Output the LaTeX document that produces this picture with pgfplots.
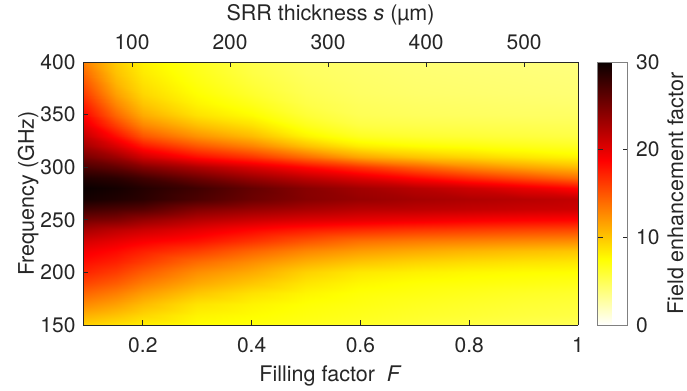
\documentclass[border=0pt]{standalone}
\usepackage{fontspec}
\setmainfont{TeX Gyre Heros}
\usepackage{pgfplots}
\pgfplotsset{compat=1.18}
\definecolor{axgray}{RGB}{38,38,38}
\begin{document}
\begin{tikzpicture}
\pgfplotsset{
  myaxis/.style={
    scale only axis, width=495pt, height=263pt,
    tick align=inside, major tick length=5pt,
    axis line style={axgray, line width=0.9pt},
    tick style={axgray, line width=0.9pt},
    ticklabel style={text=axgray, font=\fontsize{21}{24}\selectfont},
    label style={text=axgray, font=\fontsize{21.5}{25}\selectfont},
    /pgf/number format/assume math mode=true,
  }
}
\begin{axis}[
  myaxis,
  name=main,
  view={0}{90},
  xmin=0.09, xmax=1, ymin=150, ymax=400,
  xtick={0.2,0.4,0.6,0.8,1}, xticklabels={0.2,0.4,0.6,0.8,1},
  ytick={150,200,250,300,350,400},
  xtick pos=bottom, ytick pos=left,
  xticklabel style={yshift=-9pt},
  yticklabel style={xshift=-4pt},
  xlabel={Filling factor \ \textit{F}},
  ylabel={Frequency (GHz)},
  xlabel style={yshift=-6pt},
  ylabel style={yshift=-5pt},
  colormap={hotr}{rgb255(0cm)=(255,255,255) rgb255(2cm)=(255,255,0) rgb255(5cm)=(255,0,0) rgb255(8cm)=(10,0,0)},
  point meta min=0, point meta max=30,
  colorbar,
  colorbar style={
    at={(parent axis.north east)}, anchor=north west, xshift=11pt,
    width=30pt,
    ytick={0,10,20,30},
    tick align=inside, major tick length=5pt,
    axis line style={gray, line width=0.6pt},
    tick style={axgray, line width=0.6pt},
    yticklabel style={text=axgray, font=\fontsize{21}{24}\selectfont, xshift=5pt},
    ylabel={Field enhancement factor},
    ylabel style={text=axgray, font=\fontsize{21.5}{25}\selectfont},
    ylabel shift=1pt,
    /pgf/number format/assume math mode=true,
  },
  axis on top,
]
\addplot3[surf, shader=interp, mesh/ordering=y varies, mesh/rows=26, mesh/cols=11] table {
x y z
0.09 150 9.5
0.09 160 11
0.09 170 12.7
0.09 180 14.3
0.09 190 15.8
0.09 200 17.2
0.09 210 18.2
0.09 220 19.3
0.09 230 20.7
0.09 240 22.7
0.09 250 25
0.09 260 27.5
0.09 270 29.5
0.09 280 30
0.09 290 29
0.09 300 27
0.09 310 25
0.09 320 23
0.09 330 21.5
0.09 340 20
0.09 350 18.7
0.09 360 17.5
0.09 370 16.3
0.09 380 15.2
0.09 390 14.2
0.09 400 13.2
0.15 150 8.8
0.15 160 10.2
0.15 170 11.7
0.15 180 13.2
0.15 190 14.7
0.15 200 16.1
0.15 210 17.3
0.15 220 18.4
0.15 230 19.8
0.15 240 21.7
0.15 250 24.5
0.15 260 27
0.15 270 29
0.15 280 29.5
0.15 290 28.5
0.15 300 26
0.15 310 23.3
0.15 320 20.5
0.15 330 18.2
0.15 340 16
0.15 350 14.2
0.15 360 12.8
0.15 370 11.7
0.15 380 10.8
0.15 390 10.2
0.15 400 9.8
0.2 150 8.2
0.2 160 9.3
0.2 170 10.5
0.2 180 11.9
0.2 190 13.3
0.2 200 14.7
0.2 210 16.1
0.2 220 17.4
0.2 230 19
0.2 240 21
0.2 250 23.5
0.2 260 26.5
0.2 270 28.5
0.2 280 28.8
0.2 290 27.5
0.2 300 24.5
0.2 310 21
0.2 320 17.8
0.2 330 15
0.2 340 12.8
0.2 350 11.2
0.2 360 10.1
0.2 370 9.3
0.2 380 8.8
0.2 390 8.4
0.2 400 8.1
0.3 150 7.5
0.3 160 8
0.3 170 8.7
0.3 180 10
0.3 190 11.3
0.3 200 12.5
0.3 210 14
0.3 220 16
0.3 230 18
0.3 240 19.8
0.3 250 22
0.3 260 24.5
0.3 270 27
0.3 280 27.5
0.3 290 25.5
0.3 300 22.5
0.3 310 18.3
0.3 320 15
0.3 330 12.3
0.3 340 10.3
0.3 350 8.8
0.3 360 8
0.3 370 7.5
0.3 380 7.1
0.3 390 6.8
0.3 400 6.6
0.4 150 7.2
0.4 160 7.6
0.4 170 8
0.4 180 8.8
0.4 190 10
0.4 200 11.2
0.4 210 12.5
0.4 220 14.3
0.4 230 16.5
0.4 240 18.5
0.4 250 21
0.4 260 23.5
0.4 270 25.5
0.4 280 25.8
0.4 290 23.5
0.4 300 20.5
0.4 310 16.5
0.4 320 13
0.4 330 10.5
0.4 340 8.8
0.4 350 7.6
0.4 360 6.8
0.4 370 6.2
0.4 380 5.8
0.4 390 5.5
0.4 400 5.3
0.5 150 6.8
0.5 160 7.1
0.5 170 7.4
0.5 180 7.9
0.5 190 8.6
0.5 200 9.5
0.5 210 11
0.5 220 12.8
0.5 230 15
0.5 240 17.5
0.5 250 20.3
0.5 260 22.7
0.5 270 24.3
0.5 280 24.2
0.5 290 21.8
0.5 300 18.5
0.5 310 14
0.5 320 10.3
0.5 330 8
0.5 340 6.7
0.5 350 5.9
0.5 360 5.4
0.5 370 5.1
0.5 380 4.9
0.5 390 4.7
0.5 400 4.6
0.6 150 6.4
0.6 160 6.7
0.6 170 7
0.6 180 7.3
0.6 190 7.8
0.6 200 8.5
0.6 210 10
0.6 220 11.8
0.6 230 13.8
0.6 240 16.8
0.6 250 19.8
0.6 260 22
0.6 270 23.5
0.6 280 23
0.6 290 20.3
0.6 300 16.5
0.6 310 11.5
0.6 320 8.3
0.6 330 6.5
0.6 340 5.5
0.6 350 5
0.6 360 4.8
0.6 370 4.6
0.6 380 4.5
0.6 390 4.4
0.6 400 4.3
0.7 150 6
0.7 160 6.3
0.7 170 6.6
0.7 180 7
0.7 190 7.4
0.7 200 8.1
0.7 210 9.4
0.7 220 11.2
0.7 230 13.3
0.7 240 16.3
0.7 250 19.4
0.7 260 21.8
0.7 270 22.9
0.7 280 22
0.7 290 18.6
0.7 300 14.5
0.7 310 10.2
0.7 320 7.6
0.7 330 6.1
0.7 340 5.3
0.7 350 4.8
0.7 360 4.6
0.7 370 4.4
0.7 380 4.3
0.7 390 4.2
0.7 400 4.1
0.8 150 5.6
0.8 160 6
0.8 170 6.3
0.8 180 6.7
0.8 190 7.2
0.8 200 7.8
0.8 210 9
0.8 220 10.7
0.8 230 13
0.8 240 16
0.8 250 19
0.8 260 21.5
0.8 270 22.4
0.8 280 21
0.8 290 17
0.8 300 12.8
0.8 310 9.4
0.8 320 7.2
0.8 330 5.9
0.8 340 5.2
0.8 350 4.7
0.8 360 4.5
0.8 370 4.3
0.8 380 4.2
0.8 390 4.1
0.8 400 4
0.9 150 5.3
0.9 160 5.7
0.9 170 6
0.9 180 6.4
0.9 190 7
0.9 200 7.6
0.9 210 8.7
0.9 220 10.3
0.9 230 12.7
0.9 240 15.7
0.9 250 18.7
0.9 260 21.2
0.9 270 22
0.9 280 19.8
0.9 290 15.5
0.9 300 11.5
0.9 310 8.6
0.9 320 6.8
0.9 330 5.7
0.9 340 5.1
0.9 350 4.6
0.9 360 4.4
0.9 370 4.2
0.9 380 4.1
0.9 390 4
0.9 400 3.9
1.0 150 5
1.0 160 5.5
1.0 170 5.8
1.0 180 6.2
1.0 190 6.8
1.0 200 7.5
1.0 210 8.5
1.0 220 10
1.0 230 12.5
1.0 240 15.5
1.0 250 18.5
1.0 260 21
1.0 270 21.5
1.0 280 18.5
1.0 290 14
1.0 300 10.5
1.0 310 8
1.0 320 6.5
1.0 330 5.5
1.0 340 5
1.0 350 4.6
1.0 360 4.3
1.0 370 4.1
1.0 380 4
1.0 390 3.9
1.0 400 3.8
};
\end{axis}
\begin{axis}[
  myaxis,
  xmin=50, xmax=555, ymin=0, ymax=1,
  axis x line*=top, axis y line=none,
  xtick={100,200,300,400,500},
  xticklabel style={yshift=9pt},
  xlabel={SRR thickness \textit{s} (µm)},
  xlabel style={yshift=2pt},
]
\end{axis}
\pgfresetboundingbox
\path[use as bounding box] ([shift={(-83pt,-65pt)}]main.south west) rectangle ([shift={(109pt,62pt)}]main.north east);
\end{tikzpicture}
\end{document}
